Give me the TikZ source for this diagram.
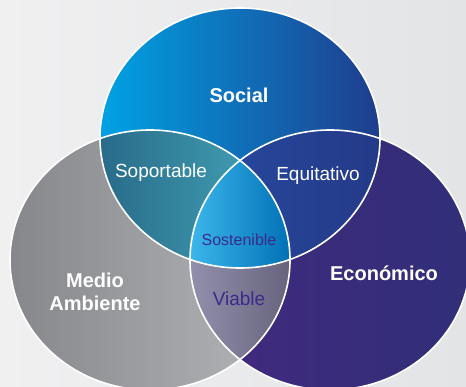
\documentclass[tikz,border=0pt]{standalone}
\usepackage{fontspec}
\setmainfont{Liberation Sans}

\definecolor{bgleft}{HTML}{F0F0F1}
\definecolor{bgright}{HTML}{E3E4E6}
\definecolor{socleft}{HTML}{00A2E4}
\definecolor{socright}{HTML}{1F3D8D}
\definecolor{medleft}{HTML}{86878B}
\definecolor{medright}{HTML}{B6B7BA}
\definecolor{ecoleft}{HTML}{43297F}
\definecolor{ecoright}{HTML}{302F78}
\definecolor{supleft}{HTML}{286B8A}
\definecolor{supright}{HTML}{3F9AAF}
\definecolor{equleft}{HTML}{27469A}
\definecolor{equright}{HTML}{243A88}
\definecolor{vialeft}{HTML}{9290AC}
\definecolor{viaright}{HTML}{67637D}
\definecolor{sosleft}{HTML}{3CB7EB}
\definecolor{sosright}{HTML}{0070B6}
\definecolor{darklabel}{HTML}{3B2A8C}

\tikzset{
  elli/.style={x radius=140pt, y radius=130pt},
  mainlabel/.style={font=\fontsize{20}{23}\selectfont\bfseries, text=white, align=center},
  sublabel/.style={font=\fontsize{19}{21}\selectfont, text=white},
  innerlabel/.style={font=\fontsize{16}{18}\selectfont, text=darklabel}
}

\begin{document}
\begin{tikzpicture}[x=1pt, y=-1pt]

\useasboundingbox (0,0) rectangle (466,387);
\fill[left color=bgleft, right color=bgright] (0,0) rectangle (466,387);

\coordinate (soc) at (240,138);
\coordinate (med) at (150,260);
\coordinate (eco) at (330,260);

% circles
\fill[left color=medleft, right color=medright] (med) ellipse [elli];
\fill[left color=ecoleft, right color=ecoright] (eco) ellipse [elli];
\fill[left color=socleft, right color=socright] (soc) ellipse [elli];

% overlaps
\begin{scope}
\clip (soc) ellipse [elli];
\clip (med) ellipse [elli];
\fill[left color=supleft, right color=supright] (100,130) rectangle (242,270);
\end{scope}
\begin{scope}
\clip (soc) ellipse [elli];
\clip (eco) ellipse [elli];
\fill[left color=equleft, right color=equright] (238,130) rectangle (380,270);
\end{scope}
\begin{scope}
\clip (med) ellipse [elli];
\clip (eco) ellipse [elli];
\fill[left color=vialeft, right color=viaright] (189,160) rectangle (291,362);
\end{scope}
\begin{scope}
\clip (soc) ellipse [elli];
\clip (med) ellipse [elli];
\clip (eco) ellipse [elli];
\fill[left color=sosleft, right color=sosright] (189,160) rectangle (291,270);
\end{scope}

\foreach \c in {soc, med, eco}
  \draw[white, line width=1.6pt] (\c) ellipse [elli];

% labels
\node[mainlabel] (social) at (239,95) {Social};
\node[mainlabel] (medio) at (95,292) {Medio\\Ambiente};
\node[mainlabel] (economico) at (384,273) {Económico};
\node[sublabel] (soportable) at (161,173) {Soportable};
\node[sublabel] (equitativo) at (318,176) {Equitativo};
\node[innerlabel] (sostenible) at (239,240) {Sostenible};
\node[innerlabel, font=\fontsize{19}{21}\selectfont] (viable) at (239,299) {Viable};

\end{tikzpicture}
\end{document}
